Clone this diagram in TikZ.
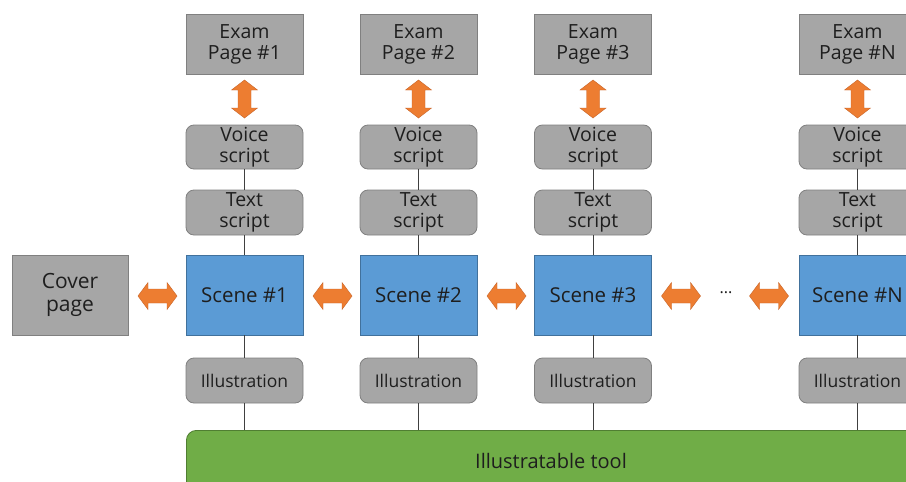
\documentclass[tikz,border=0pt]{standalone}
\usepackage{fontspec}
\setmainfont{Open Sans}
\usetikzlibrary{calc}
\definecolor{greyfill}{RGB}{166,166,166}
\definecolor{greyline}{RGB}{128,128,128}
\definecolor{bluefill}{RGB}{91,155,213}
\definecolor{blueline}{RGB}{65,113,156}
\definecolor{greenfill}{RGB}{112,173,71}
\definecolor{greenline}{RGB}{80,126,50}
\definecolor{orangefill}{RGB}{237,125,49}
\definecolor{orangeline}{RGB}{200,100,40}
\definecolor{txt}{RGB}{30,30,30}
\begin{document}
\begin{tikzpicture}[x=1pt,y=-1pt,
  base/.style={draw=#1,line width=0.8pt,align=center,inner sep=0pt,font=\fontsize{19.5}{21}\selectfont,text=txt},
  exambox/.style={base=greyline,fill=greyfill,minimum width=117pt,minimum height=60pt},
  roundbox/.style={base=greyline,fill=greyfill,rounded corners=8pt,minimum width=117pt,minimum height=45pt},
  scenebox/.style={base=blueline,fill=bluefill,minimum width=117pt,minimum height=80pt,font=\fontsize{20.5}{22}\selectfont},
  link/.style={draw=black!75,line width=0.9pt},
  arr/.style={fill=orangefill,draw=orangeline,line width=0.4pt}
]
\clip (0,0) rectangle (906,482);
\fill[white] (0,0) rectangle (906,482);

% green tool bar
\node[base=greenline,fill=greenfill,rounded corners=10pt,minimum width=730pt,minimum height=64pt,anchor=north west] (tool) at (186,430) {};
\node[font=\fontsize{20}{22}\selectfont,text=txt] (tooltxt) at (551,461) {Illustratable tool};

% cover
\node[exambox,minimum width=116pt,minimum height=80pt,font=\fontsize{21}{23}\selectfont] (cover) at (70,295) {Cover\\page};

\foreach \i/\x/\lab in {1/244.5/1,2/418.5/2,3/593/3,4/857.5/N}{
  \node[exambox] (exam\i) at (\x,44) {Exam\\Page \#\lab};
  \node[roundbox,minimum height=44pt] (voice\i) at (\x,147) {Voice\\script};
  \node[roundbox] (text\i) at (\x,212.5) {Text\\script};
  \node[scenebox] (scene\i) at (\x,295) {Scene \#\lab};
  \node[roundbox,font=\fontsize{17.5}{21}\selectfont] (ill\i) at (\x,380.5) {Illustration};
  \draw[link] (voice\i) -- (text\i);
  \draw[link] (text\i) -- (scene\i);
  \draw[link] (scene\i) -- (ill\i);
  \draw[link] (ill\i.south) -- (ill\i.south |- tool.north);
  % vertical double arrow
  \coordinate (va\i) at (\x,99);
  \filldraw[arr] ($(va\i)+(0,-19)$) -- ++(13,10) -- ++(-6.5,0) -- ++(0,18) -- ++(6.5,0) -- ++(-13,10) -- ++(-13,-10) -- ++(6.5,0) -- ++(0,-18) -- ++(-6.5,0) -- cycle;
}

\node[font=\fontsize{16}{18}\selectfont,text=txt] (dots) at (726,293) {...};

% horizontal double arrows
\foreach \c in {157.5,332.5,506.5,681,769}{
  \coordinate (ha) at (\c,296);
  \filldraw[arr] ($(ha)+(-19.5,0)$) -- ++(10,-13.5) -- ++(0,6.5) -- ++(19,0) -- ++(0,-6.5) -- ++(10,13.5) -- ++(-10,13.5) -- ++(0,-6.5) -- ++(-19,0) -- ++(0,6.5) -- cycle;
}
\end{tikzpicture}
\end{document}
